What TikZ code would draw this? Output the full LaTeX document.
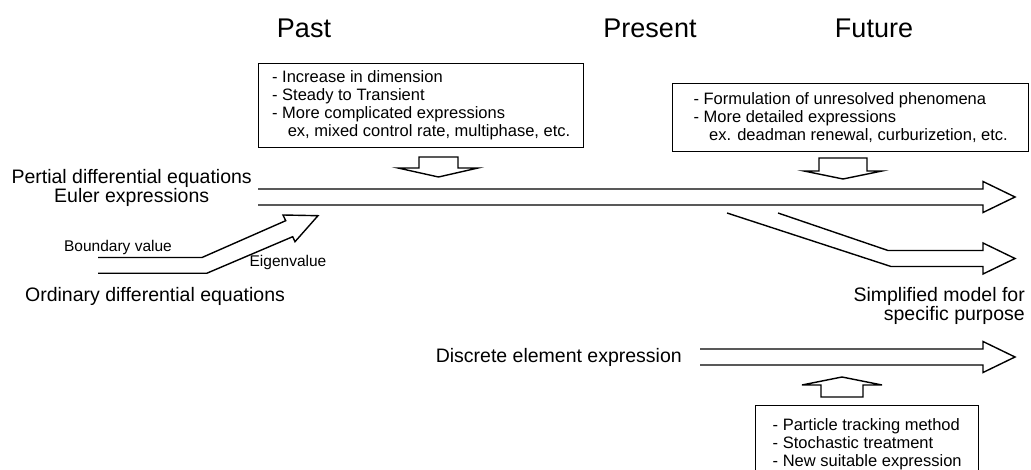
\documentclass[tikz,border=0pt]{standalone}
\usepackage{fontspec}
\setmainfont{Liberation Sans}

\tikzset{
    era/.style={font=\fontsize{27}{30}\selectfont, inner sep=0pt},
    eqlabel/.style={font=\fontsize{19.5}{18}\selectfont, inner sep=0pt},
    hint/.style={font=\fontsize{15.5}{17}\selectfont, inner sep=0pt},
    notebox/.style={draw, line width=1.4pt, align=left, anchor=north west,
        font=\fontsize{16.5}{18}\selectfont, inner ysep=0pt},
    hollow/.style={draw, line width=1.4pt, line join=miter},
}

\begin{document}
\begin{tikzpicture}[x=1pt, y=-1pt]
    \useasboundingbox (0,0) rectangle (1031,470);

    \node[era] (past) at (304,28) {Past};
    \node[era] (present) at (650,28) {Present};
    \node[era] (future) at (874,28) {Future};

    \node[notebox, minimum width=325pt, minimum height=84pt] (pastbox) at (258,63)
        {- Increase in dimension\\
         - Steady to Transient\\
         - More complicated expressions\\
         \hspace*{0.95em}ex, mixed control rate, multiphase, etc.};

    \node[notebox, minimum width=356pt, minimum height=68pt] (futurebox) at (672,83)
        {- Formulation of unresolved phenomena\\
         - More detailed expressions\\
         \hspace*{0.95em}ex. deadman renewal, curburizetion, etc.};

    \node[notebox, minimum width=223pt, inner ysep=13pt] (newbox) at (755,405)
        {- Particle tracking method\\
         - Stochastic treatment\\
         - New suitable expression};

    \node[eqlabel, align=center, anchor=east] (pde) at (252,188)
        {Pertial differential equations\\Euler expressions};
    \node[eqlabel] (ode) at (155,296) {Ordinary differential equations};
    \node[hint] (boundary) at (118,247) {Boundary value};
    \node[hint] (eigen) at (288,262) {Eigenvalue};
    \node[eqlabel, align=right, anchor=north east] (simple) at (1025,287)
        {Simplified model for\\specific purpose};
    \node[eqlabel, anchor=east] (dem) at (682,357) {Discrete element expression};

    \draw[hollow] (419,157) -- (458,157) -- (458,168) -- (478,168) -- (438.5,177)
        -- (398,168) -- (419,168) -- cycle;
    \draw[hollow] (819,158) -- (867,158) -- (867,171) -- (882,171) -- (843,179)
        -- (804,171) -- (819,171) -- cycle;
    \draw[hollow] (821,397) -- (863,397) -- (863,385) -- (882,385) -- (842,377)
        -- (802,385) -- (821,385) -- cycle;

    \draw[hollow] (258,189) -- (983,189) -- (983,181.5) -- (1015,197)
        -- (983,212.5) -- (983,205) -- (258,205);
    \draw[hollow] (778,213) -- (888,250.5) -- (983,250.5) -- (983,243) -- (1015,258.5)
        -- (983,274) -- (983,266.5) -- (891,266.5) -- (727,213);
    \draw[hollow] (700,349) -- (983,349) -- (983,341.5) -- (1015,357)
        -- (983,372.5) -- (983,365) -- (700,365);
    \draw[hollow] (98,257.5) -- (202,257.5) -- (285.7,220.7) -- (283,215) -- (318,215.7)
        -- (295,241.7) -- (292.7,236.7) -- (206.7,273.3) -- (98,273.3);

\end{tikzpicture}
\end{document}
